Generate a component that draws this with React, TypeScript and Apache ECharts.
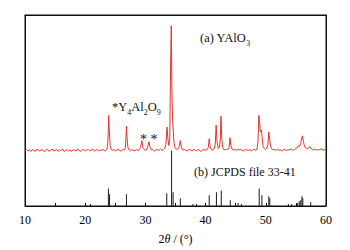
import React, { useEffect, useRef } from "react";
import * as echarts from "echarts";

// 2θ tick labels
const xTicks = [10, 20, 30, 40, 50, 60];

// (a) measured YAlO3 pattern: [2θ, intensity (a.u., baseline included)]
const yalo3Pattern: [number, number][] = [
  [10.0, 57], [10.25, 58], [10.5, 56.5], [10.75, 57.5], [11.0, 56], [11.25, 58], [11.5, 57], [11.75, 56],
  [12.0, 58.5], [12.25, 57], [12.5, 56.5], [12.75, 58], [13.0, 57], [13.25, 55.5], [13.5, 57.5], [13.75, 58],
  [14.0, 56], [14.25, 57], [14.5, 58.5], [14.75, 56.5], [15.0, 57], [15.25, 58], [15.5, 56], [15.75, 57.5],
  [16.0, 57], [16.25, 58.5], [16.5, 56], [16.75, 57], [17.0, 58], [17.25, 56.5], [17.5, 57.5], [17.75, 56],
  [18.0, 58], [18.25, 57], [18.5, 56.5], [18.75, 58.5], [19.0, 57], [19.25, 56], [19.5, 57.5], [19.75, 58],
  [20.0, 56.5], [20.25, 57.5], [20.5, 58], [20.75, 56.5], [21.0, 57.5], [21.25, 58.5], [21.5, 56.5], [21.75, 57],
  [22.0, 58], [22.25, 56.5], [22.5, 57.5], [22.75, 57], [23.0, 58], [23.25, 56.5], [23.5, 57.5], [23.65, 59],
  [23.8, 70], [23.9, 93], [24.0, 78], [24.15, 62], [24.3, 58], [24.5, 57], [24.75, 58], [25.0, 56.5],
  [25.25, 57.5], [25.5, 58], [25.75, 57], [26.0, 56.5], [26.25, 58], [26.5, 57.5], [26.65, 59], [26.75, 68],
  [26.85, 82], [26.95, 70], [27.1, 60], [27.3, 57.5], [27.5, 56.5], [27.75, 58], [28.0, 57], [28.25, 56.5],
  [28.5, 58], [28.75, 57], [29.0, 58], [29.2, 60], [29.4, 67], [29.6, 60], [29.8, 58], [30.0, 57],
  [30.2, 57.5], [30.4, 61], [30.6, 66], [30.8, 60], [31.0, 57.5], [31.25, 58], [31.5, 56.5], [31.75, 57.5],
  [32.0, 58], [32.25, 57], [32.5, 58.5], [32.75, 57], [33.0, 58], [33.2, 59], [33.4, 63], [33.6, 81],
  [33.75, 68], [33.9, 62], [34.05, 70], [34.2, 150], [34.3, 185], [34.4, 120], [34.5, 92], [34.6, 80],
  [34.75, 65], [34.9, 60], [35.1, 58.5], [35.3, 58], [35.5, 59], [35.65, 62], [35.8, 67], [35.95, 61],
  [36.1, 58.5], [36.3, 57.5], [36.5, 58], [36.75, 57], [37.0, 56.5], [37.25, 58], [37.5, 57.5], [37.75, 56.5],
  [38.0, 58], [38.25, 57.5], [38.5, 56.5], [38.75, 58], [39.0, 57], [39.25, 56], [39.5, 57.5], [39.75, 58],
  [40.0, 57], [40.25, 58], [40.45, 60], [40.6, 69], [40.75, 61], [40.95, 58], [41.2, 57.5], [41.4, 58.5],
  [41.6, 63], [41.75, 83], [41.9, 66], [42.1, 59], [42.3, 60], [42.45, 70], [42.55, 92], [42.7, 68],
  [42.85, 60], [43.0, 58], [43.25, 57.5], [43.5, 58], [43.75, 58.5], [43.9, 60], [44.05, 70], [44.2, 62],
  [44.4, 58.5], [44.6, 57.5], [44.85, 58], [45.1, 57], [45.35, 58.5], [45.6, 57.5], [45.85, 58], [46.1, 57],
  [46.35, 56.5], [46.6, 58], [46.85, 57.5], [47.1, 57], [47.35, 58], [47.6, 56.5], [47.85, 57.5], [48.1, 58],
  [48.35, 57], [48.55, 59], [48.7, 66], [48.85, 93], [48.95, 88], [49.1, 76], [49.25, 78], [49.4, 70],
  [49.55, 61], [49.75, 59], [49.95, 58], [50.15, 59], [50.35, 63], [50.5, 76], [50.65, 68], [50.8, 61],
  [51.0, 58.5], [51.25, 57.5], [51.5, 58], [51.75, 57], [52.0, 58.5], [52.25, 57], [52.5, 57.5], [52.75, 56.5],
  [53.0, 58], [53.25, 57.5], [53.5, 57], [53.75, 58], [54.0, 57.5], [54.25, 58.5], [54.5, 57], [54.75, 58],
  [55.0, 59], [55.25, 60], [55.4, 62], [55.6, 61], [55.8, 64], [55.95, 70], [56.1, 72], [56.25, 66],
  [56.45, 61], [56.7, 59], [56.95, 58.5], [57.15, 60], [57.3, 61], [57.5, 59], [57.75, 58], [58.0, 57.5],
  [58.25, 58.5], [58.5, 57], [58.75, 58], [59.0, 57.5], [59.25, 59], [59.5, 57], [59.75, 58], [60.0, 57.5],
];

// (b) JCPDS file 33-41 reference lines: [2θ, relative intensity]
const jcpdsLines: [number, number][] = [
  [20.9, 2], [23.85, 18], [24.05, 12], [26.85, 12], [33.55, 13], [34.35, 57], [34.6, 14], [35.8, 8],
  [37.9, 2], [38.5, 2], [40.6, 11], [41.8, 14], [42.6, 16], [44.1, 6], [45.4, 3], [45.95, 2],
  [48.9, 18], [49.35, 11], [50.5, 10], [50.65, 8], [53.75, 2], [54.3, 2], [55.3, 3], [55.55, 5],
  [55.8, 6], [56.0, 10], [56.15, 8], [57.45, 4],
];

const SERIF = "Liberation Serif";

export default function App() {
  const ref = useRef<HTMLDivElement>(null);

  useEffect(() => {
    document.body.style.margin = "0";
    if (!ref.current) return;
    const chart = echarts.init(ref.current, null, { renderer: "svg" });
    const tickMin = xTicks[0];
    const tickMax = xTicks[xTicks.length - 1];
    const yMax = 196;
    const frameLine = { show: true, onZero: false, lineStyle: { color: "#111", width: 1 } };
    chart.setOption({
      animation: false,
      backgroundColor: "#ffffff",
      textStyle: { fontFamily: SERIF },
      grid: {
        left: 25,
        right: 24,
        top: 15,
        bottom: 40,
        show: true,
        borderColor: "#111",
        borderWidth: 1,
        backgroundColor: "rgba(0,0,0,0)",
      },
      xAxis: [
        {
          type: "value",
          position: "bottom",
          min: tickMin,
          max: tickMax,
          interval: 10,
          name: "{n|2}{i|θ}{n| / (°)}",
          nameLocation: "middle",
          nameGap: 27,
          nameTextStyle: {
            fontFamily: SERIF,
            rich: {
              n: { fontFamily: SERIF, fontSize: 12, color: "#000" },
              i: { fontFamily: SERIF, fontSize: 12, fontStyle: "italic", color: "#000" },
            },
          },
          axisLine: frameLine,
          axisTick: { show: true, inside: true, length: 3, lineStyle: { color: "#111", width: 1 } },
          minorTick: { show: true, splitNumber: 2, length: 3, lineStyle: { color: "#111", width: 1 } },
          axisLabel: { fontFamily: SERIF, fontSize: 12, color: "#000", margin: 8 },
          splitLine: { show: false },
          minorSplitLine: { show: false },
        },
        {
          type: "value",
          position: "top",
          min: tickMin,
          max: tickMax,
          interval: 10,
          axisLine: frameLine,
          axisTick: { show: false },
          axisLabel: { show: false },
          splitLine: { show: false },
        },
      ],
      yAxis: [
        {
          type: "value",
          position: "left",
          min: 0,
          max: yMax,
          axisLine: frameLine,
          axisTick: { show: false },
          axisLabel: { show: false },
          splitLine: { show: false },
        },
        {
          type: "value",
          position: "right",
          min: 0,
          max: yMax,
          axisLine: frameLine,
          axisTick: { show: false },
          axisLabel: { show: false },
          splitLine: { show: false },
        },
      ],
      series: [
        {
          type: "bar",
          data: jcpdsLines,
          barWidth: 1,
          itemStyle: { color: "#1a1a1a" },
          silent: true,
        },
        {
          type: "line",
          data: yalo3Pattern,
          showSymbol: false,
          lineStyle: { color: "#e8332e", width: 1 },
          silent: true,
          z: 3,
        },
      ],
      graphic: [
        {
          type: "text",
          left: 200,
          top: 31,
          style: {
            text: "{m|(a) YAlO}{s|3}",
            rich: {
              m: { fontFamily: SERIF, fontSize: 12.5, fill: "#111", verticalAlign: "top", padding: [0, 0, 3, 0] },
              s: { fontFamily: SERIF, fontSize: 8, fill: "#111", verticalAlign: "bottom" },
            },
          },
        },
        {
          type: "text",
          left: 112,
          top: 100,
          style: {
            text: "{m|*Y}{s|4}{m|Al}{s|2}{m|O}{s|9}",
            rich: {
              m: { fontFamily: SERIF, fontSize: 12.5, fill: "#111", verticalAlign: "top", padding: [0, 0, 3, 0] },
              s: { fontFamily: SERIF, fontSize: 8, fill: "#111", verticalAlign: "bottom" },
            },
          },
        },
        {
          type: "text",
          left: 140,
          top: 132,
          style: { text: "* *", fontFamily: SERIF, fontSize: 14, fill: "#111" },
        },
        {
          type: "text",
          left: 194,
          top: 166,
          style: { text: "(b) JCPDS file 33-41", fontFamily: SERIF, fontSize: 12, fill: "#111" },
        },
      ],
    });
    return () => chart.dispose();
  }, []);

  return <div ref={ref} style={{ width: 350, height: 250 }} />;
}
